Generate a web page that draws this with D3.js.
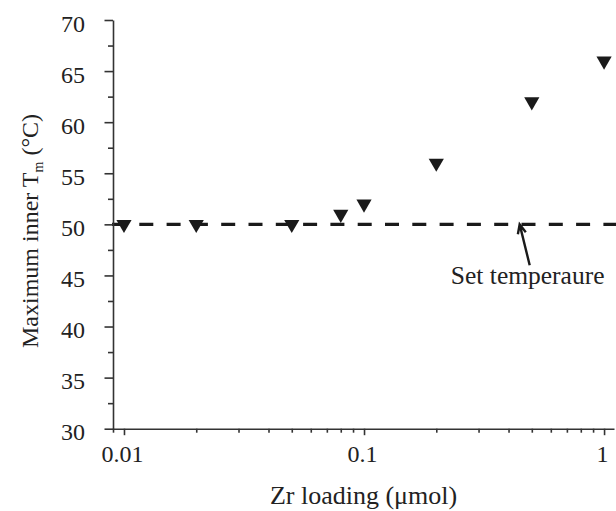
<!DOCTYPE html>
<html>
<head>
<meta charset="utf-8">
<script src="https://cdn.jsdelivr.net/npm/d3@7"></script>
<style>
body { margin: 0; background: #fff; }
</style>
</head>
<body>
<div id="chart"></div>
<script>
// data
var loading = [0.01, 0.02, 0.05, 0.08, 0.1, 0.2, 0.5, 1];
var maxTm = [50, 50, 50, 51, 52, 56, 62, 66];
var setTemp = 50;

var xTicks = [0.01, 0.1, 1];
var xMinor = [0.009, 0.02, 0.03, 0.04, 0.05, 0.06, 0.07, 0.08, 0.09,
              0.2, 0.3, 0.4, 0.5, 0.6, 0.7, 0.8, 0.9];
var yTicks = [30, 35, 40, 45, 50, 55, 60, 65, 70];
var yMinor = [32.5, 37.5, 42.5, 47.5, 52.5, 57.5, 62.5, 67.5];

// annotation: text anchor, arrow tail, arrow tip (data units)
var noteText = "Set temperaure";
var notePos = [0.23, 44.2];
var arrowTail = [0.49, 46.0];
var arrowTip = [0.445, 50];

var W = 616, H = 511;
var margin = {top: 20, right: 2, bottom: 82.3, left: 113};
var width = W - margin.left - margin.right,
    height = H - margin.top - margin.bottom;

var serif = "'Liberation Serif', 'Times New Roman', serif";
var ink = "#222";

var svg = d3.select("#chart")
  .append("svg")
  .attr("width", W)
  .attr("height", H)
  .style("background", "#fff");

var g = svg.append("g")
  .attr("transform", "translate(" + margin.left + "," + margin.top + ")");

var x = d3.scaleLog()
  .domain([0.009, 1.1])
  .range([0, width]);

var y = d3.scaleLinear()
  .domain([30, 70])
  .range([height, 0]);

// set temperature line
g.append("line")
  .attr("x1", x(0.009) - 1)
  .attr("x2", W - margin.left)
  .attr("y1", y(setTemp))
  .attr("y2", y(setTemp))
  .attr("stroke", "#1a1a1a")
  .attr("stroke-width", 3.2)
  .attr("stroke-dasharray", "14,13.3");

// minor ticks
g.append("g")
  .attr("transform", "translate(0," + height + ")")
  .call(d3.axisBottom(x).tickValues(xMinor).tickSize(4).tickFormat(""))
  .call(function(a) { a.select(".domain").remove(); });

g.append("g")
  .call(d3.axisLeft(y).tickValues(yMinor).tickSize(5).tickFormat(""))
  .call(function(a) { a.select(".domain").remove(); });

// major axes
var xAxis = g.append("g")
  .attr("transform", "translate(0," + height + ")")
  .call(d3.axisBottom(x).tickValues(xTicks).tickSize(6.5).tickSizeOuter(0)
    .tickFormat(d3.format("~g")));

xAxis.selectAll("text")
  .attr("y", 33)
  .attr("dy", 0)
  .attr("dx", -2);

var yAxis = g.append("g")
  .call(d3.axisLeft(y).tickValues(yTicks).tickSize(8.5).tickSizeOuter(0).tickPadding(19.5));

yAxis.selectAll("text")
  .attr("dy", 11);

g.selectAll(".tick line, .domain")
  .attr("stroke", "#333")
  .attr("stroke-width", 1.6);

g.selectAll(".tick text")
  .attr("fill", ink)
  .attr("font-family", serif)
  .attr("font-size", "24px");

// markers
g.append("g")
  .selectAll("path")
  .data(loading)
  .enter()
  .append("path")
  .attr("d", d3.symbol().type(d3.symbolTriangle).size(100))
  .attr("transform", function(d, i) {
    return "translate(" + x(d) + "," + y(maxTm[i]) + ") rotate(180)";
  })
  .attr("fill", "#1a1a1a");

// annotation
var tx = x(arrowTip[0]), ty = y(arrowTip[1]);
var sx = x(arrowTail[0]), sy = y(arrowTail[1]);
var ang = Math.atan2(sy - ty, sx - tx);
var arm = 10, spread = 0.42;

g.append("path")
  .attr("d",
    "M" + sx + "," + sy + "L" + tx + "," + ty +
    "M" + (tx + arm * Math.cos(ang - spread)) + "," + (ty + arm * Math.sin(ang - spread)) +
    "L" + tx + "," + ty +
    "L" + (tx + arm * Math.cos(ang + spread)) + "," + (ty + arm * Math.sin(ang + spread)))
  .attr("fill", "none")
  .attr("stroke", "#1a1a1a")
  .attr("stroke-width", 2.4);

g.append("text")
  .attr("x", x(notePos[0]))
  .attr("y", y(notePos[1]))
  .attr("fill", ink)
  .attr("font-family", serif)
  .attr("font-size", "25.5px")
  .text(noteText);

// axis titles
svg.append("text")
  .attr("x", margin.left + width / 2)
  .attr("y", 504)
  .attr("text-anchor", "middle")
  .attr("fill", ink)
  .attr("font-family", serif)
  .attr("font-size", "26px")
  .text("Zr loading (\u03bcmol)");

var yt = svg.append("text")
  .attr("transform", "translate(38,231) rotate(-90)")
  .attr("text-anchor", "middle")
  .attr("fill", ink)
  .attr("font-family", serif)
  .attr("font-size", "24px");

yt.append("tspan").text("Maximum inner T");
yt.append("tspan").attr("font-size", "14px").attr("dy", 5).text("m");
yt.append("tspan").attr("dy", -5).text(" (\u00b0C)");
</script>
</body>
</html>
